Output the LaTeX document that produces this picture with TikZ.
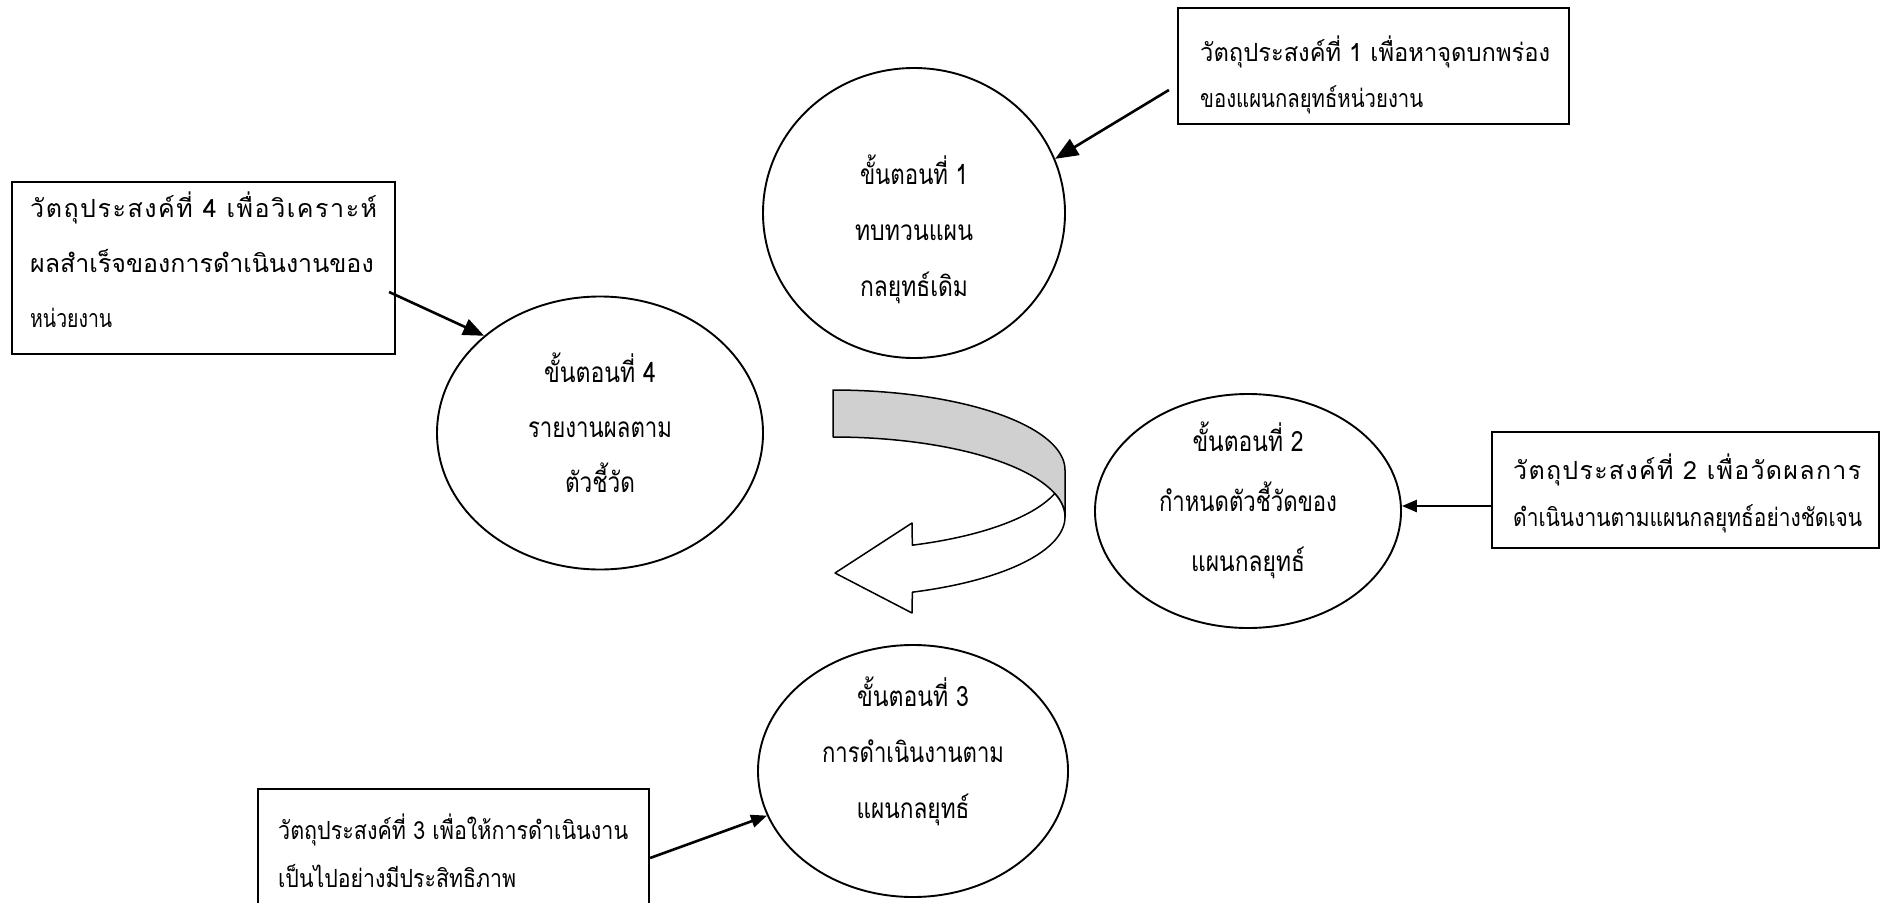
\documentclass[tikz,border=0pt]{standalone}
\usepackage{graphicx}
\usepackage{fontspec}
\newfontfamily\thai[Script=Thai]{Loma}
\usetikzlibrary{arrows.meta,shapes.geometric,calc}
\definecolor{bandgray}{RGB}{208,208,208}
\newcommand\gp{\hskip0pt plus1fil\relax}
\newcommand\fitw[2]{\resizebox{#1pt}{\height}{#2}}
\tikzset{
  stage/.style={draw,ellipse,line width=1.9pt,inner sep=0pt},
  goalbox/.style={draw,rectangle,line width=2.2pt,inner sep=0pt},
  stagetext/.style={align=center,inner sep=0pt,font=\thai\fontsize{28}{#1}\selectfont},
  stagetext/.default=56,
  goaltext/.style={align=left,inner sep=0pt,anchor=west,font=\thai\fontsize{25}{#1}\selectfont},
  goaltext/.default=47,
  link/.style={line width=2.6pt,-{Triangle[length=#1,width=0.8*#1]}},
  link/.default=20pt,
  band/.style={line width=1.5pt,line join=round}
}
\begin{document}
\begin{tikzpicture}[x=1pt,y=-1pt]
\clip (0,0) rectangle (1881,902);
\fill[white] (0,0) rectangle (1881,902);

% stages
\node[stage,minimum width=302pt,minimum height=290pt] (e1) at (914,213) {};
\node[stage,minimum width=326pt,minimum height=273pt] (e4) at (600,433) {};
\node[stage,minimum width=306pt,minimum height=234pt] (e2) at (1248,511) {};
\node[stage,minimum width=310pt,minimum height=252pt] (e3) at (913,771) {};

\node[stagetext=56] (t1) at (914,229) {\fitw{108}{ขั้นตอนที่ 1}\\\fitw{118}{ทบทวนแผน}\\\fitw{108}{กลยุทธ์เดิม}};
\node[stagetext=55] (t4) at (600,423) {\fitw{112}{ขั้นตอนที่ 4}\\\fitw{144}{รายงานผลตาม}\\\fitw{70}{ตัวชี้วัด}};
\node[stagetext=60] (t2) at (1248,500) {\fitw{111}{ขั้นตอนที่ 2}\\\fitw{178}{กำหนดตัวชี้วัดของ}\\\fitw{114}{แผนกลยุทธ์}};
\node[stagetext=56] (t3) at (913,751) {\fitw{112}{ขั้นตอนที่ 3}\\\fitw{182}{การดำเนินงานตาม}\\\fitw{113}{แผนกลยุทธ์}};

% goal boxes
\node[goalbox,minimum width=391pt,minimum height=116pt] (b1) at (1373.5,66) {};
\node[goalbox,minimum width=383pt,minimum height=172pt] (b4) at (203.5,268) {};
\node[goalbox,minimum width=387pt,minimum height=116pt] (b2) at (1685.5,490) {};
\node[goalbox,minimum width=391pt,minimum height=151pt] (b3) at (453.5,864.5) {};

\node[goaltext=46] (g1) at (1200,75) {\fitw{350}{วัตถุประสงค์ที่ 1 เพื่อหาจุดบกพร่อง}\\\fitw{223}{ของแผนกลยุทธ์หน่วยงาน}};
\node[goaltext=55] (g4) at (30,260) {\hbox to 347pt{วั\gp ต\gp ถุ\gp ป\gp ร\gp ะ\gp ส\gp ง\gp ค์\gp ที่\gp{} 4\gp{} เ\gp พื่\gp อ\gp วิ\gp เ\gp ค\gp ร\gp า\gp ะ\gp ห์}\\
\hbox to 343pt{ผ\gp ล\gp สำ\gp เ\gp ร็\gp จ\gp ข\gp อ\gp ง\gp ก\gp า\gp ร\gp ดำ\gp เ\gp นิ\gp น\gp ง\gp า\gp น\gp ข\gp อ\gp ง}\\
\fitw{82}{หน่วยงาน}};
\node[goaltext=47] (g2) at (1513,493.5) {\hbox to 348pt{วั\gp ต\gp ถุ\gp ป\gp ร\gp ะ\gp ส\gp ง\gp ค์\gp ที่\gp{} 2\gp{} เ\gp พื่\gp อ\gp วั\gp ด\gp ผ\gp ล\gp ก\gp า\gp ร}\\
\fitw{349}{ดำเนินงานตามแผนกลยุทธ์อย่างชัดเจน}};
\node[goaltext=48] (g3) at (278,851) {\fitw{350}{วัตถุประสงค์ที่ 3 เพื่อให้การดำเนินงาน}\\\fitw{238}{เป็นไปอย่างมีประสิทธิภาพ}};

% connectors
\draw[link=23pt] ([xshift=-8pt,yshift=-24pt]b1.west) -- (e1.21);
\draw[link=21pt] ([xshift=-7pt,yshift=-24pt]b4.east) -- (e4.140);
\draw[link=15pt] ([yshift=-16pt]b2.west) -- ([yshift=-16pt]b2.west -| e2.east);
\draw[link=16pt] ([yshift=6.5pt]b3.east) -- (e3.197);

% curved cycle arrow: back (grey) part
\draw[band,fill=bandgray]
  plot[domain=90:0,samples=50] ({833+232*cos(\x)},{470-80*sin(\x)})
  -- plot[domain=0:90,samples=50] ({833+232*cos(\x)},{517-80*sin(\x)})
  -- cycle;
% front (white) part with arrow head
\draw[band,fill=white]
  plot[domain=0:-70,samples=50] ({833+232*cos(\x)},{517-80*sin(\x)})
  -- (912,613) -- (835,573) -- (912,523)
  -- plot[domain=-70:-17.1,samples=50] ({833+232*cos(\x)},{470-80*sin(\x)})
  -- plot[domain=17.1:0,samples=20] ({833+232*cos(\x)},{517-80*sin(\x)})
  -- cycle;
\end{tikzpicture}
\end{document}
